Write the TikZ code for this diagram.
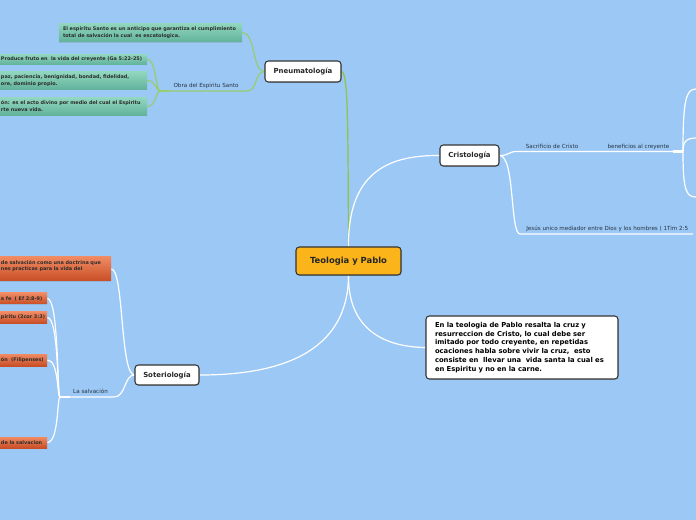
\documentclass[tikz,border=0pt]{standalone}
\usepackage{fontspec}
\setmainfont{DejaVu Sans}
\usetikzlibrary{shadows}
\definecolor{bgblue}{RGB}{155,200,244}
\definecolor{maingreen}{RGB}{141,198,63}
\definecolor{lightgreen}{RGB}{150,205,110}
\definecolor{boxorange}{RGB}{251,180,26}
\definecolor{txtgray}{RGB}{45,45,45}
\definecolor{lblgray}{RGB}{40,52,68}
\definecolor{gtop}{RGB}{145,215,190}
\definecolor{gbot}{RGB}{98,178,155}
\definecolor{otop}{RGB}{240,138,98}
\definecolor{obot}{RGB}{200,78,38}
\pgfdeclarelayer{bg}
\pgfsetlayers{bg,main}
\tikzset{
 topic/.style={draw=black!80, line width=0.8pt, rounded corners=2.5pt, fill=white,
   font=\fontsize{5.2}{6}\selectfont\bfseries, text=black!85, inner sep=0pt,
   drop shadow={shadow xshift=0.7pt, shadow yshift=-0.7pt, opacity=0.3}},
 central/.style={topic, fill=boxorange, font=\fontsize{6.3}{7}\selectfont\bfseries},
 note/.style={topic, align=left, font=\fontsize{5.1}{6.6}\selectfont\bfseries, text=black,
   inner xsep=6.75pt, inner ysep=0pt},
 leaf/.style={draw=none, align=left, inner ysep=0pt,
   font=\fontsize{3.7}{5.25}\selectfont\bfseries, text=txtgray,
   drop shadow={shadow xshift=0pt, shadow yshift=-0.6pt, opacity=0.25}},
 gbox/.style={leaf, top color=gtop, bottom color=gbot},
 obox/.style={leaf, top color=otop, bottom color=obot, font=\fontsize{3.7}{4.6}\selectfont\bfseries},
 lbl/.style={font=\fontsize{4.2}{5}\selectfont, text=lblgray, inner sep=0pt},
 wline/.style={draw=white, line width=0.9pt},
 gline/.style={draw=lightgreen, line width=0.9pt},
}
\begin{document}
\begin{tikzpicture}[x=0.75pt,y=-0.75pt]
\useasboundingbox (0,0) rectangle (696,520);
% main topics
\node[central, minimum width=78.75pt, minimum height=21pt] (C) at (348.5,261) {Teologia y Pablo};
\node[topic, minimum width=57pt, minimum height=15.75pt] (P) at (303,71.5) {Pneumatología};
\node[topic, minimum width=44.25pt, minimum height=15.75pt] (K) at (469.5,155.5) {Cristología};
\node[topic, minimum width=48pt, minimum height=15pt] (S) at (167,375) {Soteriología};
\node[note, text width=130.5pt, minimum height=47.25pt] (T) at (522,347.5) {En la teologia de Pablo resalta la cruz y\\resurreccion de Cristo, lo cual debe ser\\imitado por todo creyente, en repetidas\\ocaciones habla sobre vivir la cruz,~ esto\\consiste en~ llevar una~ vida santa la cual es\\en Espiritu y no en la carne.};
% green leaves
\node[gbox, text width=131.25pt, inner xsep=3pt, minimum height=14pt] (G1) at (150.5,32.5) {El espiritu Santo es un anticipo que garantiza el cumplimiento\\total de salvación la cual~ es escatologica.};
\node[gbox, text width=108.75pt, inner xsep=0.75pt, minimum height=7.5pt] (G2) at (73.5,59.3) {Produce fruto en~ la vida del creyente (Ga 5:22-25)};
\node[gbox, text width=108.75pt, inner xsep=0.75pt, minimum height=13.5pt] (G3) at (73.5,80.5) {paz, paciencia, benignidad, bondad, fidelidad,\\ore, dominio propio.};
\node[gbox, text width=108.75pt, inner xsep=0.75pt, minimum height=13pt] (G4) at (73.5,106.5) {ón: es el acto divino por medio del cual el Espiritu\\rte nueva vida.};
% orange leaves
\node[obox, text width=81.75pt, inner xsep=0.75pt, minimum height=18pt] (O1) at (55.5,269) {de salvación como una doctrina que\\nes practicas para la vida del\\\mbox{}};
\node[obox, text width=33.75pt, inner xsep=0.75pt, minimum height=8.25pt] (O2) at (23.5,298.5) {a fe~ ( Ef 2:8-9)};
\node[obox, text width=33.75pt, inner xsep=0.75pt, minimum height=8.25pt] (O3) at (23.5,317.5) {piritu (2cor 3:3)};
\node[obox, text width=33.75pt, inner xsep=0.75pt, minimum height=9pt] (O4) at (23.5,360) {ón~ (Filipenses)};
\node[obox, text width=33.75pt, inner xsep=0.75pt, minimum height=8.25pt] (O5) at (23.5,442.5) {de la salvacion};
% labels
\node[lbl] (lobra) at (206,85.5) {Obra del Espiritu Santo};
\node[lbl] (lsac) at (552,146.5) {Sacrificio de Cristo};
\node[lbl] (lben) at (638.5,146.5) {beneficios al creyente};
\node[lbl, anchor=west] (ljes) at (526,228.5) {Jesús unico mediador entre Dios y los hombres ( 1Tim 2:5};
\node[lbl] (lsal) at (90.5,391.5) {La salvación};
% coordinates
\coordinate (obraL) at (160,91);
\coordinate (obraT) at (170,91);
\coordinate (obraR) at (247,91);
\coordinate (sacL) at (517,151.5);
\coordinate (benR) at (673,151.5);
\coordinate (benJ) at (683,151.5);
\coordinate (rt1) at (696,89);
\coordinate (rt2) at (696,138);
\coordinate (rt3) at (696,197);
\coordinate (jesL) at (520,234);
\coordinate (jesR) at (693,234);
\coordinate (salL) at (60,397);
\coordinate (salT) at (70,397);
\coordinate (salR) at (114,397);
\begin{pgfonlayer}{bg}
\fill[bgblue] (0,0) rectangle (696,520);
% central connectors
\draw[line width=0.9pt, draw=maingreen] (C.north) .. controls (348,120) and (348,72) .. (P.east);
\draw[wline] (C.north) .. controls (348,175) and (385,155) .. (K.west);
\draw[wline] (C.south) .. controls (348,330) and (385,347) .. (T.west);
\draw[wline] (C.south) .. controls (348,362) and (262,375) .. (S.east);
% pneumatologia
\draw[gline] (P.west) .. controls (252,72) and (256,33) .. (G1.east);
\draw[gline] (P.west) .. controls (254,72) and (258,91) .. (obraR) -- (obraL);
\draw[gline, line width=2pt] (obraL) -- (obraT);
\draw[gline] (obraL) .. controls (156,91) and (156,59.3) .. (G2.east);
\draw[gline] (obraL) .. controls (156,91) and (156,80.5) .. (G3.east);
\draw[gline] (obraL) .. controls (156,91) and (156,106.5) .. (G4.east);
% cristologia
\draw[wline] (K.east) .. controls (510,155.5) and (508,151.5) .. (sacL) -- (benR);
\draw[wline, line width=2pt] (benR) -- (benJ);
\draw[wline] (benJ) .. controls (683,100) and (686,89) .. (rt1);
\draw[wline] (benJ) .. controls (683,142) and (686,138) .. (rt2);
\draw[wline] (benJ) .. controls (683,190) and (686,197) .. (rt3);
\draw[wline] (K.east) .. controls (515,155.5) and (510,234) .. (jesL) -- (jesR);
% soteriologia
\draw[wline] (S.west) .. controls (120,375) and (124,269) .. (O1.east);
\draw[wline] (S.west) .. controls (124,375) and (126,397) .. (salR) -- (salL);
\draw[wline, line width=2pt] (salL) -- (salT);
\draw[wline] (salL) .. controls (57,397) and (59,298.5) .. (O2.east);
\draw[wline] (salL) .. controls (57,397) and (59,317.5) .. (O3.east);
\draw[wline] (salL) .. controls (57,397) and (59,360) .. (O4.east);
\draw[wline] (salL) .. controls (57,397) and (59,442.5) .. (O5.east);
\end{pgfonlayer}
\end{tikzpicture}
\end{document}
